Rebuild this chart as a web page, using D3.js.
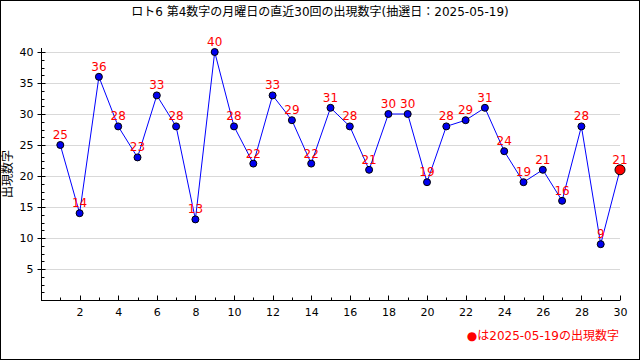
<!DOCTYPE html>
<html><head><meta charset="utf-8">
<script src="https://cdn.jsdelivr.net/npm/d3@7"></script>
<style>
html,body{margin:0;padding:0;background:#fff;}
svg{display:block;}
text{font-family:"DejaVu Sans","Noto Sans CJK JP",sans-serif;}
</style></head>
<body>
<svg id="c" width="640" height="360"></svg>
<script>
const draws = d3.range(1, 31);
const values = [25,14,36,28,23,33,28,13,40,28,22,33,29,22,31,28,21,30,30,19,28,29,31,24,19,21,16,28,9,21];
const yTicks = [5,10,15,20,25,30,35,40];
const xTicks = [2,4,6,8,10,12,14,16,18,20,22,24,26,28,30];
const titleText = "ロト6 第4数字の月曜日の直近30回の出現数字(抽選日：2025-05-19)";
const yLabel = "出現数字";
const legendText = "●は2025-05-19の出現数字";

const svg = d3.select("#c");
svg.append("rect").attr("x",0.5).attr("y",0.5).attr("width",639).attr("height",359)
  .attr("fill","#fff").attr("stroke","#000");

const x = d3.scaleLinear().domain([0,30]).range([41,620]);
const y = d3.scaleLinear().domain([0,40]).range([300,52]);

// grid
svg.append("g").selectAll("line").data(yTicks).join("line")
  .attr("x1",41).attr("x2",620).attr("y1",d=>Math.round(y(d))+0.5).attr("y2",d=>Math.round(y(d))+0.5)
  .attr("stroke","#d9d9d9").attr("stroke-width",1);

// y axis
const gy = svg.append("g").attr("transform","translate(41.5,0)");
gy.call(d3.axisLeft(y).tickValues(yTicks).tickSize(4).tickSizeOuter(0).tickPadding(4));
gy.select(".domain").attr("d",`M0,${y(40)-4}V${y(0)}`);
gy.selectAll(".tick text").attr("font-size",11).attr("fill","#000");
gy.selectAll(".tick line").attr("x2",4).attr("x1",-4);
// minor y ticks
const yMinor = d3.range(0,40.01,1.25).filter(v=>v%5!==0);
gy.append("g").selectAll("line").data(yMinor).join("line")
  .attr("x1",0).attr("x2",3).attr("y1",d=>Math.round(y(d))+0.5).attr("y2",d=>Math.round(y(d))+0.5)
  .attr("stroke","#000");

// x axis
const gx = svg.append("g").attr("transform","translate(0,300.5)");
gx.call(d3.axisBottom(x).tickValues(xTicks).tickSize(0).tickSizeOuter(0).tickPadding(8));
gx.select(".domain").attr("d",`M41,0H620`);
gx.selectAll(".tick text").attr("font-size",11).attr("fill","#000");
gx.append("g").selectAll("line").data(d3.range(1,31)).join("line")
  .attr("x1",d=>Math.round(x(d))+0.5).attr("x2",d=>Math.round(x(d))+0.5)
  .attr("y1",0).attr("y2",d=>d%2===0?-5:-3).attr("stroke","#000");

// line
const line = d3.line().x((d,i)=>x(draws[i])).y(d=>y(d));
svg.append("path").datum(values).attr("d",line).attr("fill","none")
  .attr("stroke","#0000ff").attr("stroke-width",1);

// points
svg.append("g").selectAll("circle").data(values).join("circle")
  .attr("cx",(d,i)=>x(draws[i])).attr("cy",d=>y(d))
  .attr("r",(d,i)=>i===values.length-1?5:3.5)
  .attr("fill",(d,i)=>i===values.length-1?"#ff0000":"#0000ee")
  .attr("stroke","#000").attr("stroke-width",1);

// value labels
svg.append("g").selectAll("text").data(values).join("text")
  .attr("x",(d,i)=>x(draws[i])).attr("y",d=>y(d)-6)
  .attr("text-anchor","middle").attr("font-size",12).attr("fill","#ff0000")
  .text(d=>d);

// title
svg.append("text").attr("x",320).attr("y",16).attr("text-anchor","middle")
  .attr("font-size",12).attr("fill","#000").text(titleText);

// y label
svg.append("text").attr("transform","translate(12,174) rotate(-90)")
  .attr("text-anchor","middle").attr("font-size",12).attr("fill","#000").text(yLabel);

// legend
svg.append("text").attr("x",619).attr("y",340).attr("text-anchor","end")
  .attr("font-size",12).attr("fill","#ff0000").text(legendText);
</script>
</body></html>
